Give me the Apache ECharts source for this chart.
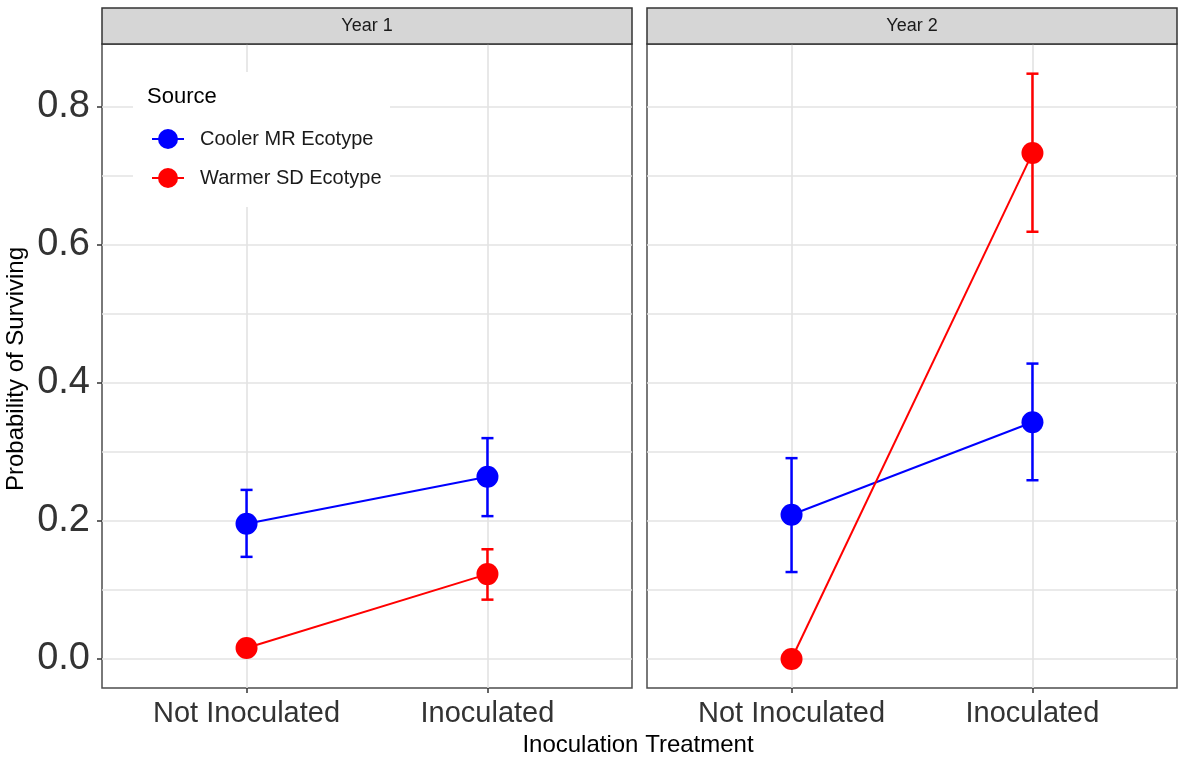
<!DOCTYPE html>
<html>
<head>
<meta charset="utf-8">
<script src="https://cdn.jsdelivr.net/npm/echarts@6/dist/echarts.min.js"></script>
<style>
  html, body { margin: 0; padding: 0; background: #fff; }
  #main { width: 1185px; height: 761px; }
</style>
</head>
<body>
<div id="main"></div>
<script>
// categories and facets
var categories = ['Not Inoculated', 'Inoculated'];
var years = ['Year 1', 'Year 2'];
var xPos = [1, 2];

// Cooler MR Ecotype (blue)
var coolerMeanY1 = [0.196, 0.264];
var coolerLowY1 = [0.148, 0.207];
var coolerHighY1 = [0.245, 0.320];
var coolerMeanY2 = [0.209, 0.343];
var coolerLowY2 = [0.126, 0.259];
var coolerHighY2 = [0.291, 0.428];

// Warmer SD Ecotype (red)
var warmerMeanY1 = [0.016, 0.123];
var warmerLowY1 = [null, 0.086];
var warmerHighY1 = [null, 0.159];
var warmerMeanY2 = [0.000, 0.733];
var warmerLowY2 = [null, 0.619];
var warmerHighY2 = [null, 0.848];

// y axis ticks
var yTickValues = [0, 0.2, 0.4, 0.6, 0.8];
var yTickLabels = ['0.0', '0.2', '0.4', '0.6', '0.8'];
var yGridValues = [0, 0.1, 0.2, 0.3, 0.4, 0.5, 0.6, 0.7, 0.8];

var yMin = -0.042, yMax = 0.891;
var capHalf = 0.025;
var FONT = 'Liberation Sans, Arial, Helvetica, sans-serif';
var BLUE = '#0000ff', RED = '#ff0000';

function pairs(means) {
	var out = [];
	for (var i = 0; i < means.length; i++) {
		out.push([xPos[i], means[i]]);
	}
	return out;
}

function bars(lows, highs) {
	var out = [];
	for (var i = 0; i < lows.length; i++) {
		if (lows[i] == null) continue;
		out.push([xPos[i], lows[i], highs[i]]);
	}
	return out;
}

function renderErrorBar(params, api) {
	var x = api.value(0);
	var top = api.coord([x, api.value(2)]);
	var bot = api.coord([x, api.value(1)]);
	var left = api.coord([x - capHalf, api.value(2)])[0];
	var right = api.coord([x + capHalf, api.value(2)])[0];
	var style = { stroke: api.visual('color'), lineWidth: 2.5 };
	return {
		type : 'group',
		children : [
			{ type : 'line', shape : { x1 : top[0], y1 : top[1], x2 : bot[0], y2 : bot[1] }, style : style },
			{ type : 'line', shape : { x1 : left, y1 : top[1], x2 : right, y2 : top[1] }, style : style },
			{ type : 'line', shape : { x1 : left, y1 : bot[1], x2 : right, y2 : bot[1] }, style : style }
		]
	};
}

function xAxisFor(gi) {
	return {
		type : 'value',
		gridIndex : gi,
		position : 'bottom',
		min : 0.4,
		max : 2.6,
		axisLine : { show : false, onZero : false },
		axisTick : { show : true, customValues : xPos, length : 5, lineStyle : { color : '#333', width : 1.5 } },
		axisLabel : {
			customValues : xPos,
			margin : 11,
			fontFamily : FONT,
			fontSize : 29,
			color : '#333',
			formatter : function(v) { return categories[Math.round(v) - 1]; }
		},
		splitLine : { show : true, lineStyle : { color : '#e3e3e3', width : 1.6 } }
	};
}

function gridAxisFor(gi) {
	return {
		type : 'value',
		gridIndex : gi,
		position : 'left',
		min : yMin,
		max : yMax,
		axisLine : { show : false, onZero : false },
		axisTick : { show : false, customValues : yGridValues },
		axisLabel : { show : false, customValues : yGridValues },
		splitLine : { show : true, lineStyle : { color : '#e3e3e3', width : 1.6 } }
	};
}

function labelAxisFor(gi, showLabels) {
	return {
		type : 'value',
		gridIndex : gi,
		position : 'left',
		min : yMin,
		max : yMax,
		axisLine : { show : false, onZero : false },
		axisTick : { show : showLabels, customValues : yTickValues, length : 5, lineStyle : { color : '#333', width : 1.5 } },
		axisLabel : {
			show : showLabels,
			customValues : yTickValues,
			margin : 12,
			fontFamily : FONT,
			fontSize : 38,
			color : '#333',
			formatter : function(v) {
				var i = yTickValues.indexOf(Math.round(v * 10) / 10);
				return i >= 0 ? yTickLabels[i] : '';
			}
		},
		splitLine : { show : false }
	};
}

function lineSeries(name, gi, means, color) {
	return {
		name : name,
		type : 'line',
		xAxisIndex : gi,
		yAxisIndex : gi * 2,
		data : pairs(means),
		symbol : 'circle',
		symbolSize : 22,
		lineStyle : { color : color, width : 2 },
		itemStyle : { color : color },
		z : 3,
		animation : false
	};
}

function barSeries(name, gi, lows, highs, color) {
	return {
		name : name,
		type : 'custom',
		xAxisIndex : gi,
		yAxisIndex : gi * 2,
		data : bars(lows, highs),
		encode : { x : 0, y : [1, 2] },
		renderItem : renderErrorBar,
		itemStyle : { color : color },
		z : 2,
		animation : false
	};
}

var dom = document.getElementById('main');
var myChart = echarts.init(dom, null, { renderer : 'canvas' });

var panelStyle = { show : true, borderColor : '#4d4d4d', borderWidth : 1.5, backgroundColor : '#fff' };

option = {
	backgroundColor : '#fff',
	animation : false,
	grid : [
		Object.assign({ left : 102, top : 44, width : 530, height : 644 }, panelStyle),
		Object.assign({ left : 647, top : 44, width : 530, height : 644 }, panelStyle)
	],
	xAxis : [ xAxisFor(0), xAxisFor(1) ],
	yAxis : [ gridAxisFor(0), labelAxisFor(0, true), gridAxisFor(1), labelAxisFor(1, false) ],
	legend : {
		data : [ 'Cooler MR Ecotype', 'Warmer SD Ecotype' ],
		orient : 'vertical',
		left : 151,
		top : 129,
		padding : 0,
		itemWidth : 32,
		itemHeight : 25,
		itemGap : 19,
		textStyle : { fontFamily : FONT, fontSize : 20, color : '#1a1a1a', padding : [0, 0, 0, 11] },
		selectedMode : false
	},
	graphic : [
		{ type : 'rect', z : 1, shape : { x : 133, y : 72, width : 257, height : 135 }, style : { fill : '#fff' } },
		{ type : 'text', z : 5, x : 147, y : 97, style : { text : 'Source', font : '22px ' + FONT, fill : '#000', textVerticalAlign : 'middle' } },
		{ type : 'rect', z : 5, shape : { x : 102, y : 8, width : 530, height : 36 }, style : { fill : '#d6d6d6', stroke : '#333', lineWidth : 1.5 } },
		{ type : 'rect', z : 5, shape : { x : 647, y : 8, width : 530, height : 36 }, style : { fill : '#d6d6d6', stroke : '#333', lineWidth : 1.5 } },
		{ type : 'text', z : 6, x : 367, y : 26, style : { text : years[0], font : '18px ' + FONT, fill : '#1a1a1a', textAlign : 'center', textVerticalAlign : 'middle' } },
		{ type : 'text', z : 6, x : 912, y : 26, style : { text : years[1], font : '18px ' + FONT, fill : '#1a1a1a', textAlign : 'center', textVerticalAlign : 'middle' } },
		{ type : 'text', z : 6, x : 638, y : 745, style : { text : 'Inoculation Treatment', font : '24px ' + FONT, fill : '#000', textAlign : 'center', textVerticalAlign : 'middle' } },
		{ type : 'text', z : 6, x : 16, y : 369, rotation : Math.PI / 2, style : { text : 'Probability of Surviving', font : '24px ' + FONT, fill : '#000', textAlign : 'center', textVerticalAlign : 'middle' } }
	],
	series : [
		lineSeries('Cooler MR Ecotype', 0, coolerMeanY1, BLUE),
		lineSeries('Warmer SD Ecotype', 0, warmerMeanY1, RED),
		lineSeries('Cooler MR Ecotype', 1, coolerMeanY2, BLUE),
		lineSeries('Warmer SD Ecotype', 1, warmerMeanY2, RED),
		barSeries('cooler-ci-1', 0, coolerLowY1, coolerHighY1, BLUE),
		barSeries('warmer-ci-1', 0, warmerLowY1, warmerHighY1, RED),
		barSeries('cooler-ci-2', 1, coolerLowY2, coolerHighY2, BLUE),
		barSeries('warmer-ci-2', 1, warmerLowY2, warmerHighY2, RED)
	]
};

if (option && typeof option === "object") {
	myChart.setOption(option, true);
}
</script>
</body>
</html>
